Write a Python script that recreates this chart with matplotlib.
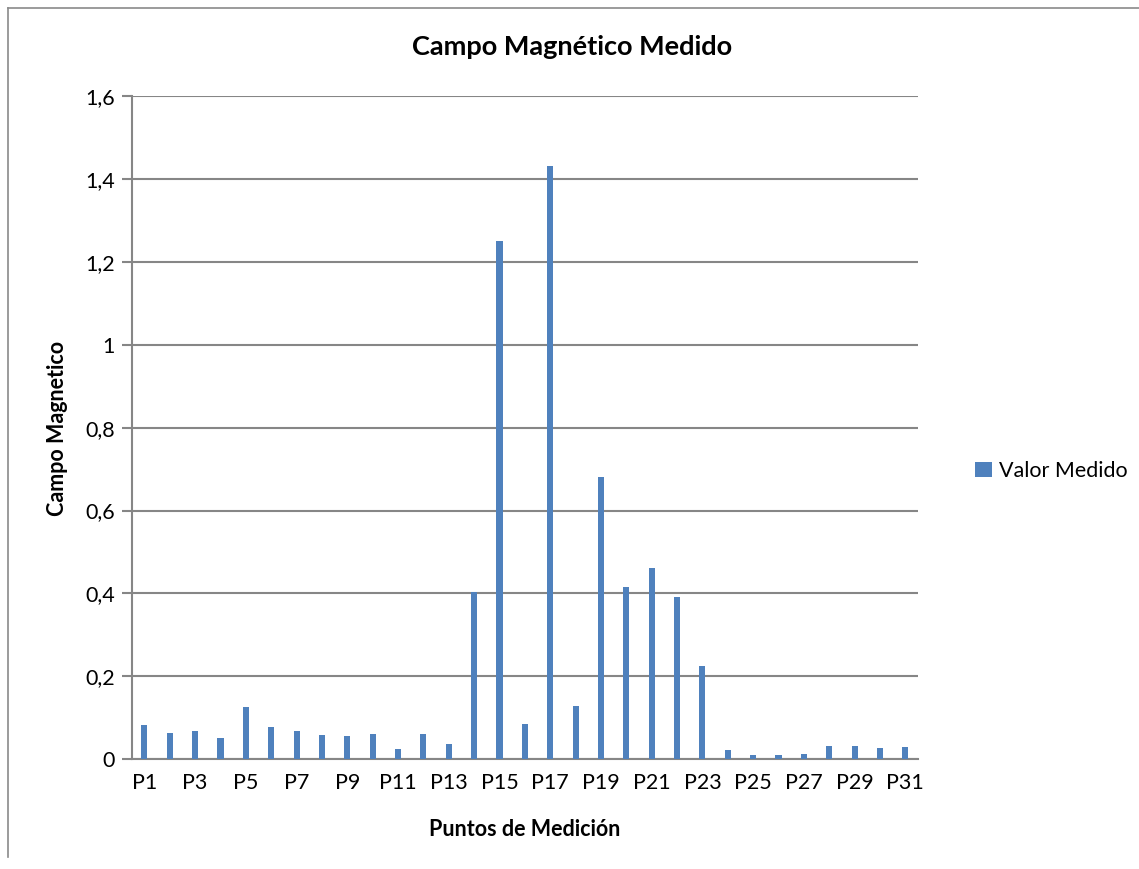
import numpy as np
import matplotlib.pyplot as plt
from matplotlib.lines import Line2D

# Data
puntos = ['P%d' % i for i in range(1, 32)]
valor_medido = [0.082, 0.063, 0.068, 0.051, 0.125, 0.078, 0.068, 0.059, 0.055, 0.061,
                0.025, 0.060, 0.037, 0.404, 1.250, 0.085, 1.431, 0.129, 0.682, 0.416,
                0.462, 0.391, 0.224, 0.022, 0.011, 0.011, 0.0135, 0.031, 0.032, 0.0265,
                0.029]
y_ticks = [0, 0.2, 0.4, 0.6, 0.8, 1.0, 1.2, 1.4, 1.6]
y_tick_labels = ['0', '0,2', '0,4', '0,6', '0,8', '1', '1,2', '1,4', '1,6']

plt.rcParams['font.family'] = ['Lato', 'DejaVu Sans']
W, H = 1139, 869
fig = plt.figure(figsize=(W / 100, H / 100), dpi=100, facecolor='w')
ax = fig.add_axes([131.7 / W, 1 - 759.3 / H, (918 - 131.7) / W, (759.3 - 96) / H])

grid_c = '#868686'
x = np.arange(len(puntos))
ax.bar(x, valor_medido, width=0.24, color='#4F81BD', zorder=3, label='Valor Medido')

ax.set_xlim(-0.5, len(puntos) - 0.5)
ax.set_ylim(0, 1.6)
ax.set_yticks(y_ticks)
ax.set_yticklabels(y_tick_labels)
ax.set_xticks(x[::2])
ax.set_xticklabels(puntos[::2])
ax.yaxis.grid(True, color=grid_c, linewidth=1.5, zorder=0)

for s in ['top', 'right']:
    ax.spines[s].set_visible(False)
ax.spines['left'].set_color(grid_c)
ax.spines['left'].set_linewidth(1.5)
ax.spines['bottom'].set_color(grid_c)
ax.spines['bottom'].set_linewidth(1.5)
ax.tick_params(axis='y', length=7, width=1.5, color=grid_c, labelsize=15.5, pad=5)
ax.tick_params(axis='x', length=0, labelsize=15.5, pad=10)

# Titles
fig.text(572 / W, 1 - 47 / H, 'Campo Magnético Medido', ha='center', va='center',
         fontsize=19.5, fontweight='bold')
fig.text(525 / W, 1 - 829 / H, 'Puntos de Medición', ha='center', va='center',
         fontsize=15.5, fontweight='bold')
fig.text(57 / W, 1 - 428 / H, 'Campo Magnetico', ha='center', va='center',
         rotation=90, fontsize=15.5, fontweight='bold')

# Legend
fig.legend(loc='center left', bbox_to_anchor=(956 / W, 1 - 471 / H), frameon=False,
           fontsize=15.5, handlelength=0.75, handleheight=0.75, handletextpad=0.35)

# Chart area border (cut off at right and bottom)
fig.add_artist(Line2D([8 / W, 1], [1 - 8 / H, 1 - 8 / H], color='#8a8a8a', linewidth=1.2))
fig.add_artist(Line2D([8 / W, 8 / W], [1 - 8 / H, 1 - 857 / H], color='#8a8a8a', linewidth=1.2))

fig.savefig('out.png', dpi=100, facecolor='w')
